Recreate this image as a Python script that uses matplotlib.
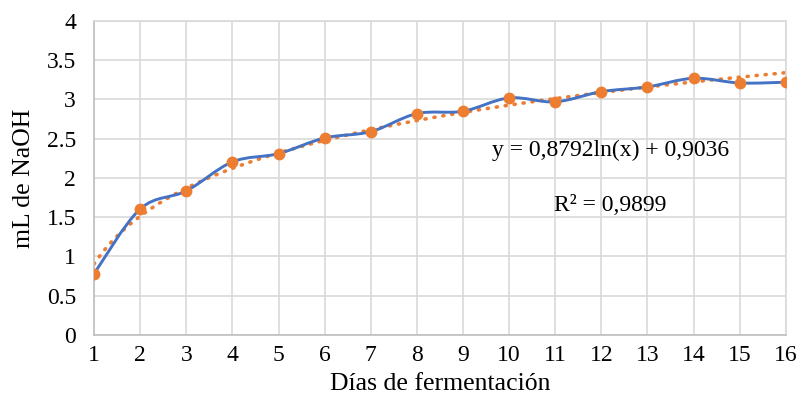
import numpy as np
import matplotlib.pyplot as plt
from matplotlib.path import Path
from matplotlib.patches import PathPatch

plt.rcParams['font.family'] = ['Liberation Serif', 'DejaVu Serif']

# data
dias = [1, 2, 3, 4, 5, 6, 7, 8, 9, 10, 11, 12, 13, 14, 15, 16]
naoh = [0.78, 1.605, 1.835, 2.205, 2.31, 2.51, 2.59, 2.82, 2.85, 3.02,
        2.97, 3.10, 3.16, 3.27, 3.21, 3.22]
y_ticks = [0, 0.5, 1, 1.5, 2, 2.5, 3, 3.5, 4]
y_tick_labels = ['0', '0.5', '1', '1.5', '2', '2.5', '3', '3.5', '4']

# trendline shown on the chart: y = a ln(x) + b
a_coef = 0.8792
b_coef = 0.9036

blue = '#4472C4'
orange = '#ED7D31'
grid_col = '#D9D9D9'

fig = plt.figure(figsize=(8.01, 4.09), dpi=100)
ax = fig.add_axes([0.1174, 0.181, 0.8636, 0.7677])

# smoothed line (excel style bezier through the points)
x = np.array(dias, dtype=float)
y = np.array(naoh, dtype=float)
verts = [(x[0], y[0])]
codes = [Path.MOVETO]
n = len(x)
for i in range(n - 1):
    p0 = (x[i - 1], y[i - 1]) if i > 0 else (x[i], y[i])
    p1 = (x[i], y[i])
    p2 = (x[i + 1], y[i + 1])
    p3 = (x[i + 2], y[i + 2]) if i + 2 < n else (x[i + 1], y[i + 1])
    c1 = (p1[0] + (p2[0] - p0[0]) / 6, p1[1] + (p2[1] - p0[1]) / 6)
    c2 = (p2[0] - (p3[0] - p1[0]) / 6, p2[1] - (p3[1] - p1[1]) / 6)
    verts += [c1, c2, p2]
    codes += [Path.CURVE4] * 3
ax.add_patch(PathPatch(Path(verts, codes), facecolor='none', edgecolor=blue,
                       lw=2.1, zorder=3, capstyle='round'))

# trendline
xt = np.linspace(1, 16, 300)
ax.plot(xt, a_coef * np.log(xt) + b_coef, color=orange, lw=2.6,
        linestyle=(0, (0.3, 2.2)), dash_capstyle='round', zorder=2)

# markers
ax.plot(dias, naoh, linestyle='none', marker='o', markersize=7.5,
        color=orange, zorder=4)

ax.set_xlim(1, 16)
ax.set_ylim(0, 4)
ax.set_xticks(dias)
ax.set_yticks(y_ticks)
ax.set_yticklabels(y_tick_labels)
ax.tick_params(length=0, labelsize=17)
ax.tick_params(axis='x', pad=7)
ax.tick_params(axis='y', pad=13)
ax.grid(True, color=grid_col, lw=1.2)
ax.set_axisbelow(True)
for s in ax.spines.values():
    s.set_color(grid_col)
    s.set_linewidth(1.2)
ax.spines['left'].set_color('#BFBFBF')
ax.spines['bottom'].set_color('#BFBFBF')

ax.set_xlabel('Días de fermentación', fontsize=18.5, labelpad=5)
ax.set_ylabel('mL de NaOH', fontsize=18.5, labelpad=8)

ax.text(12.19, 2.35, 'y = 0,8792ln(x) + 0,9036', fontsize=17,
        ha='center', va='center')
ax.text(12.19, 1.65, 'R² = 0,9899', fontsize=17, ha='center', va='center')

fig.savefig('out.png', dpi=100)
